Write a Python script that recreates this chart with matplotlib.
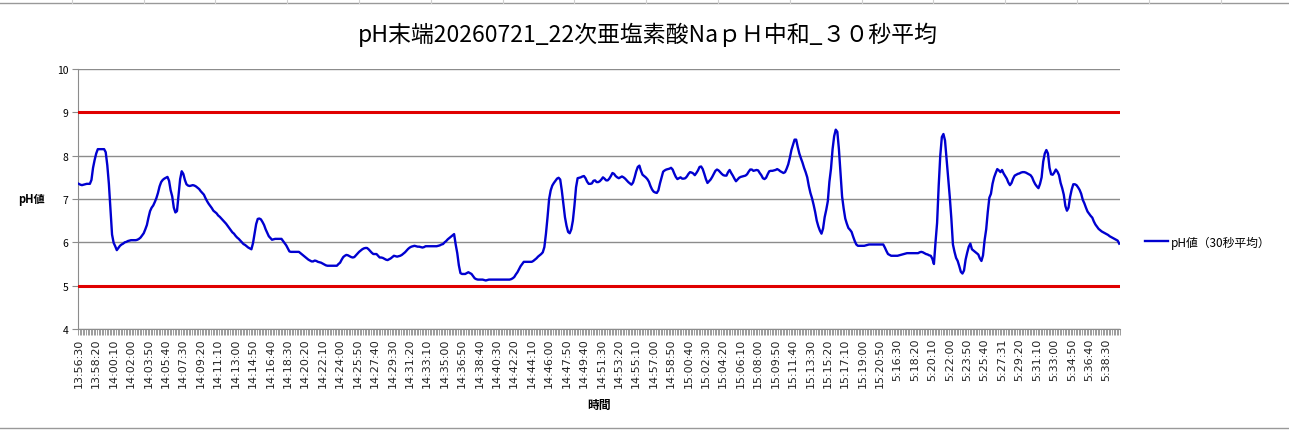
import matplotlib
matplotlib.use("Agg")
import matplotlib.pyplot as plt
from matplotlib.lines import Line2D
import numpy as np

plt.rcParams['font.family'] = ['Noto Sans CJK JP', 'DejaVu Sans']

title = "pH末端20260721_22次亜塩素酸NaｐＨ中和_３０秒平均"
y_label = "pH値"
x_label = "時間"
series_name = "pH値（30秒平均）"
upper_limit = 9
lower_limit = 5

tick_labels = [
    "13:56:30", "13:58:20", "14:00:10", "14:02:00", "14:03:50", "14:05:40", "14:07:30", "14:09:20",
    "14:11:10", "14:13:00", "14:14:50", "14:16:40", "14:18:30", "14:20:20", "14:22:10", "14:24:00",
    "14:25:50", "14:27:40", "14:29:30", "14:31:20", "14:33:10", "14:35:00", "14:36:50", "14:38:40",
    "14:40:30", "14:42:20", "14:44:10", "14:46:00", "14:47:50", "14:49:40", "14:51:30", "14:53:20",
    "14:55:10", "14:57:00", "14:58:50", "15:00:40", "15:02:30", "15:04:20", "15:06:10", "15:08:00",
    "15:09:50", "15:11:40", "15:13:30", "15:15:20", "15:17:10", "15:19:00", "15:20:50", "5:16:30",
    "5:18:20", "5:20:10", "5:22:00", "5:23:50", "5:25:40", "5:27:31", "5:29:20", "5:31:10",
    "5:33:00", "5:34:50", "5:36:40", "5:38:30",
]
label_step = 11

ph_values = [
    7.35, 7.33, 7.32, 7.33, 7.34, 7.35, 7.35, 7.35, 7.44, 7.72, 7.90,
    8.05, 8.15, 8.15, 8.15, 8.15, 8.15, 8.08, 7.78, 7.35, 6.77, 6.18,
    5.99, 5.91, 5.82, 5.87, 5.92, 5.95, 5.97, 6.00, 6.01, 6.03, 6.04,
    6.05, 6.05, 6.05, 6.05, 6.06, 6.08, 6.11, 6.16, 6.21, 6.30, 6.40,
    6.57, 6.72, 6.80, 6.85, 6.93, 7.02, 7.14, 7.29, 7.39, 7.44, 7.47,
    7.49, 7.51, 7.42, 7.20, 7.06, 6.80, 6.69, 6.72, 7.10, 7.46, 7.64,
    7.58, 7.44, 7.34, 7.31, 7.30, 7.31, 7.32, 7.31, 7.29, 7.26, 7.23,
    7.18, 7.14, 7.10, 7.02, 6.95, 6.89, 6.84, 6.79, 6.73, 6.70, 6.67,
    6.62, 6.59, 6.55, 6.51, 6.47, 6.43, 6.38, 6.33, 6.28, 6.23, 6.20,
    6.15, 6.11, 6.08, 6.04, 6.00, 5.96, 5.94, 5.91, 5.88, 5.86, 5.84,
    5.98, 6.20, 6.42, 6.54, 6.55, 6.53, 6.47, 6.40, 6.30, 6.22, 6.14,
    6.10, 6.06, 6.07, 6.08, 6.08, 6.08, 6.08, 6.08, 6.03, 5.98, 5.93,
    5.86, 5.79, 5.78, 5.78, 5.78, 5.78, 5.78, 5.78, 5.75, 5.72, 5.69,
    5.66, 5.63, 5.60, 5.58, 5.56, 5.56, 5.58, 5.57, 5.55, 5.54, 5.53,
    5.51, 5.49, 5.47, 5.46, 5.46, 5.46, 5.46, 5.46, 5.46, 5.46, 5.50,
    5.53, 5.60, 5.66, 5.69, 5.71, 5.70, 5.68, 5.66, 5.65, 5.66, 5.70,
    5.74, 5.78, 5.81, 5.84, 5.86, 5.87, 5.87, 5.84, 5.80, 5.76, 5.73,
    5.73, 5.73, 5.69, 5.65, 5.65, 5.64, 5.62, 5.60, 5.59, 5.61, 5.63,
    5.66, 5.69, 5.68, 5.67, 5.68, 5.69, 5.71, 5.74, 5.77, 5.81, 5.85,
    5.88, 5.90, 5.91, 5.92, 5.91, 5.90, 5.90, 5.89, 5.88, 5.89, 5.91,
    5.91, 5.91, 5.91, 5.91, 5.91, 5.91, 5.91, 5.92, 5.93, 5.95, 5.96,
    6.00, 6.03, 6.07, 6.10, 6.13, 6.16, 6.19, 5.95, 5.75, 5.47, 5.29,
    5.27, 5.27, 5.27, 5.29, 5.31, 5.29, 5.27, 5.22, 5.17, 5.15, 5.14,
    5.14, 5.14, 5.14, 5.13, 5.12, 5.13, 5.14, 5.14, 5.14, 5.14, 5.14,
    5.14, 5.14, 5.14, 5.14, 5.14, 5.14, 5.14, 5.14, 5.14, 5.15, 5.17,
    5.20, 5.26, 5.31, 5.38, 5.45, 5.50, 5.55, 5.55, 5.55, 5.55, 5.55,
    5.55, 5.57, 5.60, 5.63, 5.67, 5.70, 5.73, 5.77, 5.89, 6.20, 6.58,
    7.00, 7.20, 7.31, 7.37, 7.42, 7.47, 7.49, 7.45, 7.20, 6.90, 6.58,
    6.38, 6.24, 6.21, 6.30, 6.50, 6.85, 7.27, 7.48, 7.49, 7.50, 7.52,
    7.53, 7.48, 7.40, 7.35, 7.35, 7.36, 7.42, 7.43, 7.39, 7.39, 7.41,
    7.45, 7.50, 7.47, 7.43, 7.43, 7.47, 7.53, 7.60, 7.58, 7.53, 7.50,
    7.48, 7.50, 7.52, 7.50, 7.47, 7.43, 7.39, 7.36, 7.33, 7.38, 7.50,
    7.64, 7.74, 7.77, 7.65, 7.56, 7.53, 7.50, 7.46, 7.40, 7.30, 7.22,
    7.17, 7.15, 7.14, 7.20, 7.36, 7.50, 7.63, 7.66, 7.68, 7.69, 7.70,
    7.72, 7.68, 7.59, 7.51, 7.46, 7.48, 7.50, 7.47, 7.47, 7.48, 7.52,
    7.58, 7.62, 7.61, 7.59, 7.55, 7.60, 7.66, 7.74, 7.75, 7.69, 7.58,
    7.46, 7.37, 7.41, 7.45, 7.51, 7.58, 7.65, 7.68, 7.66, 7.62, 7.58,
    7.55, 7.54, 7.54, 7.62, 7.67, 7.60, 7.54, 7.47, 7.41, 7.45, 7.49,
    7.51, 7.52, 7.53, 7.54, 7.57, 7.63, 7.68, 7.68, 7.65, 7.66, 7.67,
    7.66, 7.60, 7.55, 7.48, 7.46, 7.49, 7.57, 7.64, 7.65, 7.65, 7.66,
    7.67, 7.69, 7.67, 7.64, 7.62, 7.60, 7.62, 7.70, 7.80, 7.95, 8.13,
    8.25, 8.37, 8.37, 8.20, 8.05, 7.94, 7.84, 7.72, 7.62, 7.50, 7.30,
    7.14, 7.02, 6.87, 6.70, 6.50, 6.37, 6.27, 6.20, 6.32, 6.58, 6.75,
    6.95, 7.40, 7.70, 8.15, 8.45, 8.60, 8.55, 8.15, 7.60, 7.06, 6.78,
    6.55, 6.43, 6.33, 6.29, 6.24, 6.13, 6.03, 5.95, 5.92, 5.92, 5.92,
    5.92, 5.92, 5.93, 5.94, 5.95, 5.95, 5.95, 5.95, 5.95, 5.95, 5.95,
    5.95, 5.95, 5.95, 5.88, 5.80, 5.73, 5.71, 5.69, 5.69, 5.69, 5.69,
    5.69, 5.70, 5.71, 5.72, 5.73, 5.74, 5.75, 5.75, 5.75, 5.75, 5.75,
    5.75, 5.75, 5.75, 5.77, 5.78, 5.77, 5.75, 5.73, 5.72, 5.70, 5.69,
    5.62, 5.50, 6.00, 6.45, 7.30, 8.00, 8.43, 8.50, 8.35, 7.92, 7.50,
    7.05, 6.55, 5.95, 5.78, 5.64, 5.57, 5.45, 5.32, 5.28, 5.35, 5.60,
    5.76, 5.90, 5.97, 5.84, 5.81, 5.78, 5.75, 5.72, 5.63, 5.57, 5.70,
    6.05, 6.30, 6.70, 7.03, 7.12, 7.35, 7.50, 7.60, 7.69, 7.66, 7.62,
    7.67, 7.59, 7.53, 7.47, 7.38, 7.32, 7.37, 7.47, 7.54, 7.56, 7.58,
    7.59, 7.61, 7.62, 7.62, 7.61, 7.59, 7.57, 7.55, 7.50, 7.41, 7.34,
    7.29, 7.25, 7.35, 7.50, 7.86, 8.05, 8.13, 8.05, 7.72, 7.57, 7.56,
    7.61, 7.68, 7.63, 7.55, 7.37, 7.25, 7.10, 6.84, 6.73, 6.80, 7.05,
    7.22, 7.34, 7.34, 7.32, 7.27, 7.21, 7.12, 6.98, 6.90, 6.80, 6.71,
    6.66, 6.61, 6.57, 6.48, 6.41, 6.36, 6.31, 6.28, 6.25, 6.23, 6.21,
    6.19, 6.17, 6.14, 6.12, 6.10, 6.08, 6.06, 6.04, 5.97,
]

y_ticks = [4, 5, 6, 7, 8, 9, 10]

W, H = 1289, 431
fig = plt.figure(figsize=(W / 100, H / 100), dpi=100)
ax = fig.add_axes([78 / W, 1 - 330 / H, (1120 - 78) / W, (330 - 70) / H])

n = len(ph_values)
x = np.arange(n)

ax.set_xlim(-0.5, n - 0.5)
ax.set_ylim(4, 10)
ax.set_yticks(y_ticks)
ax.yaxis.grid(True, color='#8c8c8c', linewidth=1.0)
ax.set_axisbelow(True)

ax.axhline(upper_limit, color='#e00000', linewidth=2.2, zorder=3)
ax.axhline(lower_limit, color='#e00000', linewidth=2.2, zorder=3)
ax.plot(x, ph_values, color='#0000d0', linewidth=1.7, zorder=4, label=series_name)

label_pos = np.arange(len(tick_labels)) * label_step
ax.set_xticks(label_pos)
ax.set_xticklabels(tick_labels, rotation=90, fontsize=8, family=['DejaVu Sans'], color='#222222')
ax.tick_params(axis='x', which='major', length=0, pad=6)
ax.set_xticks(np.arange(n + 1) - 0.5, minor=True)
ax.tick_params(axis='x', which='minor', length=4, color='#8c8c8c', width=0.6)
ax.tick_params(axis='y', length=4, color='#8c8c8c', labelsize=7.5, pad=3)

for s in ['top', 'right']:
    ax.spines[s].set_visible(False)
ax.spines['left'].set_color('#8c8c8c')
ax.spines['bottom'].set_color('#8c8c8c')

fig.text(648 / W, 1 - 35 / H, title, fontsize=16.5, ha='center', va='center')
ax.set_ylabel(y_label, rotation=0, fontsize=8, fontweight='bold', labelpad=18, va='center')
ax.set_xlabel(x_label, fontsize=8.5, fontweight='bold', labelpad=8)

fig.legend(handles=[Line2D([0], [0], color='#0000d0', linewidth=1.7)], labels=[series_name],
           loc='center left', bbox_to_anchor=(1134 / W, 1 - 243 / H), frameon=False,
           fontsize=8.5, handlelength=2.0, handletextpad=0.2)

# chart frame and sheet grid stubs
fig.add_artist(Line2D([0, 1], [1 - 3.5 / H, 1 - 3.5 / H], color='#999999', linewidth=1.0))
fig.add_artist(Line2D([0, 1], [1 - 428.5 / H, 1 - 428.5 / H], color='#999999', linewidth=1.0))
for xc in np.arange(71.8, W, 71.8):
    fig.add_artist(Line2D([xc / W, xc / W], [1 - 3.5 / H, 1], color='#d0d0d0', linewidth=0.8))

fig.savefig('out.png', dpi=100)
